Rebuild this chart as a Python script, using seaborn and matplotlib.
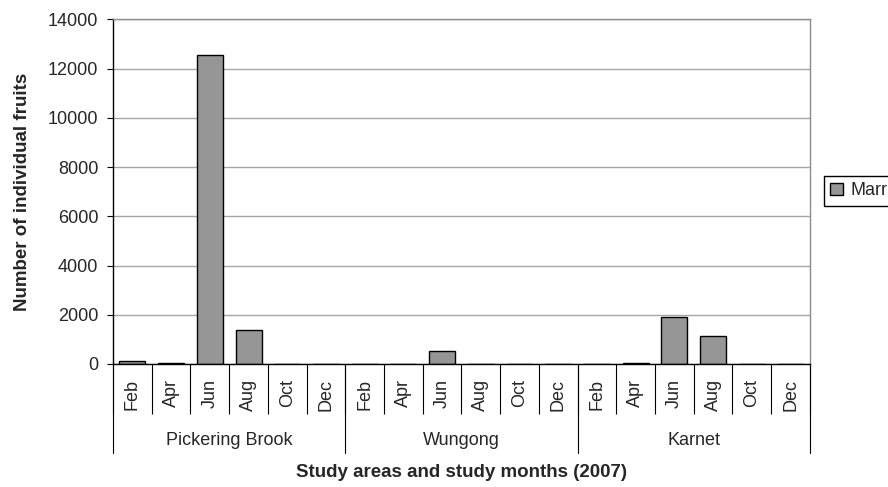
import numpy as np
import pandas as pd
import matplotlib
matplotlib.use("Agg")
import matplotlib.pyplot as plt
import seaborn as sns

# datos
meses = ["Feb", "Apr", "Jun", "Aug", "Oct", "Dec"]
areas = ["Pickering Brook", "Wungong", "Karnet"]
pickering = [120, 60, 12550, 1390, 0, 0]
wungong = [0, 0, 540, 0, 0, 0]
karnet = [0, 50, 1890, 1140, 0, 0]
serie = "Marri"

df = pd.DataFrame({
    "area": np.repeat(areas, len(meses)),
    "mes": meses * len(areas),
    "frutos": pickering + wungong + karnet,
})
df["slot"] = df["area"] + " " + df["mes"]

sns.set_theme(style="white")
plt.rcParams['font.family'] = ['Liberation Sans', 'DejaVu Sans']

fig, ax = plt.subplots(figsize=(8.88, 4.87), dpi=100)
fig.subplots_adjust(left=0.1273, right=0.912, top=0.960, bottom=0.2526)

sns.barplot(data=df, x="slot", y="frutos", order=list(df["slot"]),
            color="#969696", saturation=1, edgecolor="black",
            linewidth=1.0, width=0.67, ax=ax)

ax.set_xlim(-0.5, len(df) - 0.5)
ax.set_ylim(0, 14000)
ax.set_yticks(range(0, 14001, 2000))
ax.yaxis.grid(True, color="#a6a6a6", lw=1)
ax.set_axisbelow(True)

for lado in ["left", "bottom"]:
    ax.spines[lado].set_color("black")
    ax.spines[lado].set_linewidth(1)
for lado in ["right", "top"]:
    ax.spines[lado].set_color("#8c8c8c")
    ax.spines[lado].set_linewidth(1)

ax.tick_params(axis="y", left=True, length=4.5, width=0.8, color="black",
               labelsize=13, pad=6)

# etiquetas de meses y separadores
ax.set_xticks(range(len(df)))
ax.set_xticklabels(df["mes"], rotation=90, va="top", ha="center")
ax.tick_params(axis="x", which="major", bottom=False, length=0, labelsize=13, pad=11)
ax.set_xticks(np.arange(-0.5, len(df)), minor=True)
ax.tick_params(axis="x", which="minor", bottom=True, length=36, width=0.8, color="black")

# niveles de area
trans = ax.get_xaxis_transform()
n = len(meses)
for i, area in enumerate(areas):
    ax.plot([i * n - 0.5, i * n - 0.5], [0, -0.258], color="black", lw=0.8,
            transform=trans, clip_on=False)
    ax.text(i * n + (n - 1) / 2, -0.223, area, transform=trans,
            ha="center", va="center", fontsize=13)
ax.plot([len(df) - 0.5] * 2, [0, -0.258], color="black", lw=0.8,
        transform=trans, clip_on=False)

ax.set_xlabel("")
ax.text(0.5, -0.316, "Study areas and study months (2007)", transform=ax.transAxes,
        ha="center", va="center", fontsize=13.5, fontweight="bold")
ax.set_ylabel("Number of individual fruits", fontsize=13.5, fontweight="bold")
ax.yaxis.set_label_coords(-0.118, 0.5)

# la leyenda queda cortada por el borde derecho, como en el original
ax.legend([ax.containers[0]], [serie], loc="upper left",
          bbox_to_anchor=(824 / 888, 1 - 176 / 487), bbox_transform=fig.transFigure,
          frameon=True, fancybox=False, edgecolor="black", framealpha=1,
          fontsize=13, borderpad=0.35, handlelength=0.7, handleheight=0.7,
          handletextpad=0.4, borderaxespad=0)
ax.get_legend().get_frame().set_linewidth(1)

fig.savefig("out.png", dpi=100)
